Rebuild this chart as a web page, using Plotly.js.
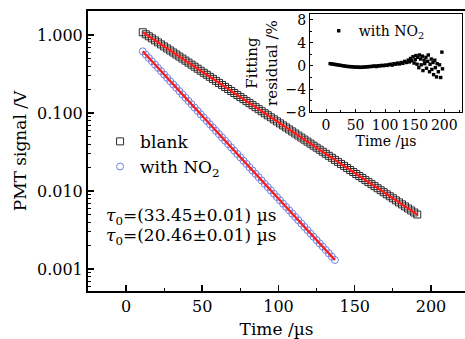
<!DOCTYPE html>
<html>
<head>
<meta charset="utf-8">
<script src="https://cdn.plot.ly/plotly-3.0.1.min.js"></script>
<style>html,body{margin:0;padding:0;overflow:hidden;background:#fff;}#chart{width:465px;height:339px;}</style>
</head>
<body>
<div id="chart"></div>
<script>
// ---- Data ----
const blankTime = [11,13,15,17,19,21,23,25,27,29,31,33,35,37,39,41,43,45,47,49,51,53,55,57,59,61,63,65,67,69,71,73,75,77,79,81,83,85,87,89,91,93,95,97,99,101,103,105,107,109,111,113,115,117,119,121,123,125,127,129,131,133,135,137,139,141,143,145,147,149,151,153,155,157,159,161,163,165,167,169,171,173,175,177,179,181,183,185,187,189,191];
const blankSignal = [1.090,1.0267,0.9671,0.9110,0.8581,0.8083,0.7614,0.7172,0.6756,0.6364,
  0.5995,0.5647,0.5319,0.5010,0.4719,0.4446,0.4188,0.3944,0.3716,0.3500,
  0.3297,0.3106,0.2925,0.2755,0.2595,0.2445,0.2303,0.2169,0.2044,0.1925,
  0.1813,0.1708,0.1609,0.1515,0.1427,0.1345,0.1267,0.1193,0.1124,0.1059,
  0.09971,0.09394,0.08849,0.08332,0.07848,0.07397,0.06968,0.06561,0.06182,0.05824,
  0.05484,0.05167,0.04867,0.04582,0.04316,0.04068,0.03832,0.03608,0.03400,0.03203,
  0.03016,0.02842,0.02677,0.02520,0.02374,0.02237,0.02108,0.01984,0.01870,0.01762,
  0.01659,0.01563,0.01472,0.01386,0.01306,0.01230,0.01159,0.01091,0.01028,0.00969,
  0.00912,0.00860,0.00810,0.00762,0.00718,0.00677,0.00637,0.00600,0.00565,0.00533,0.00502];

const no2Time = [11,13,15,17,19,21,23,25,27,29,31,33,35,37,39,41,43,45,47,49,51,53,55,57,59,61,63,65,67,69,71,73,75,77,79,81,83,85,87,89,91,93,95,97,99,101,103,105,107,109,111,113,115,117,119,121,123,125,127,129,131,133,135,137];
const no2Signal = [0.6200,0.5623,0.5099,0.4624,0.4193,0.3803,0.3449,0.3128,0.2837,0.2573,
  0.2333,0.2116,0.1918,0.1740,0.1578,0.1431,0.1298,0.1177,0.1067,0.09681,
  0.08778,0.07961,0.07217,0.06547,0.05937,0.05384,0.04884,0.04428,0.04015,0.03642,
  0.03303,0.02995,0.02715,0.02463,0.02234,0.02026,0.01838,0.01666,0.01511,0.01370,
  0.01243,0.01127,0.01022,0.009267,0.008405,0.007623,0.006915,0.006268,0.005685,0.005155,
  0.004677,0.004240,0.003845,0.003487,0.003162,0.002868,0.002602,0.002358,0.002139,0.001940,
  0.001760,0.001595,0.001447,0.001312];

const blankFitTime = [11, 191];
const blankFitSignal = [1.09, 0.00502];
const no2FitTime = [11, 137];
const no2FitSignal = [0.62, 0.001312];

const residualTime = [7,10,13,16,19,22,25,28,31,34,37,40,43,46,49,52,55,58,61,64,67,70,73,76,79,82,85,88,91,94,97,100,103,106,109,112,115,118,121,124,127,130,
  133,136,139,141,143,145,147,149,151,152,154,155,157,158,160,161,163,164,166,167,169,170,172,173,175,176,178,179,181,182,184,185,187,188,190,192,194,196,197];
const residualPct = [0.4,0.35,0.3,0.25,0.2,0.15,0.1,0.05,0.0,-0.05,-0.1,-0.1,-0.15,-0.15,-0.2,-0.2,-0.2,-0.25,-0.2,-0.2,-0.15,-0.15,-0.1,-0.1,-0.05,0.0,-0.1,0.05,0.0,0.1,0.05,0.15,0.1,0.2,0.3,0.15,0.4,0.3,0.5,0.35,0.6,0.45,
  0.8,0.6,1.0,0.7,1.3,0.9,1.6,0.5,1.1,1.8,0.3,1.5,-0.3,1.9,1.2,0.2,1.7,-0.8,1.0,0.4,1.5,-0.4,0.8,1.9,-1.0,0.3,1.2,-0.6,0.6,-1.5,1.0,-0.3,-1.9,0.4,-1.0,0.2,-2.0,2.4,-0.5];

const mainXTicks = [0, 50, 100, 150, 200];
const mainYTicks = [0.001, 0.01, 0.1, 1];
const mainYTickText = ['0.001', '0.010', '0.100', '1.000'];
const insetXTicks = [0, 50, 100, 150, 200];
const insetYTicks = [-8, -4, 0, 4, 8];
const insetYTickText = ['\u22128', '\u22124', '0', '4', '8'];

const tauLines = ['<i>\u03c4</i><sub>0</sub>=(33.45\u00b10.01) \u00b5s', '<i>\u03c4</i><sub>0</sub>=(20.46\u00b10.01) \u00b5s'];

// ---- Figure ----
const FONT = 'DejaVu Serif, Liberation Serif, serif';
const traces = [
  {x: blankTime, y: blankSignal, mode: 'markers', name: 'blank', legend: 'legend',
   marker: {symbol: 'square-open', size: 7, color: '#2a2a2a', line: {width: 1}}},
  {x: no2Time, y: no2Signal, mode: 'markers', name: 'with NO<sub>2</sub>', legend: 'legend',
   marker: {symbol: 'circle-open', size: 7, color: '#6f82e0', line: {width: 1}}},
  {x: blankFitTime, y: blankFitSignal, mode: 'lines', showlegend: false,
   line: {color: '#ff1a1a', width: 2.2}},
  {x: no2FitTime, y: no2FitSignal, mode: 'lines', showlegend: false,
   line: {color: '#ff1a1a', width: 2.2}},
  {x: residualTime, y: residualPct, mode: 'markers', name: 'with NO<sub>2</sub>', legend: 'legend2',
   xaxis: 'x2', yaxis: 'y2',
   marker: {symbol: 'square', size: 3.4, color: '#000'}}
];

// main plot area: x 88..465 px, y 11..291 px
const layout = {
  width: 465, height: 339,
  margin: {l: 88, r: 0, t: 11, b: 48},
  paper_bgcolor: '#fff', plot_bgcolor: '#fff',
  font: {family: FONT, color: '#000', size: 16},
  showlegend: true,
  xaxis: {
    range: [-24.9, 222.3], domain: [0, 1],
    tickvals: mainXTicks, ticks: 'inside', ticklen: 6, tickwidth: 1.5, tickcolor: '#000',
    minor: {dtick: 25, tick0: 0, ticks: 'inside', ticklen: 3, tickwidth: 1.2, tickcolor: '#000'},
    showline: true, linewidth: 2, linecolor: '#000', mirror: true,
    showgrid: false, zeroline: false,
    tickfont: {size: 16},
    title: {text: 'Time /\u00b5s', font: {size: 17}, standoff: 9}
  },
  yaxis: {
    type: 'log', range: [-3.28, 0.31], domain: [0, 1],
    tickvals: mainYTicks, ticktext: mainYTickText,
    ticks: 'inside', ticklen: 6, tickwidth: 1.5, tickcolor: '#000',
    minor: {dtick: 'D1', ticks: 'inside', ticklen: 3, tickwidth: 1, tickcolor: '#000'},
    showline: true, linewidth: 2, linecolor: '#000', mirror: false,
    showgrid: false, zeroline: false,
    tickfont: {size: 16},
    title: {text: 'PMT signal /V', font: {size: 17}, standoff: 6}
  },
  xaxis2: {
    anchor: 'y2', domain: [0.589, 0.992], range: [-27, 230],
    tickvals: insetXTicks, ticks: 'inside', ticklen: 3, tickwidth: 1, tickcolor: '#000',
    minor: {dtick: 25, tick0: 0, ticks: 'inside', ticklen: 2, tickcolor: '#000'},
    showline: true, linewidth: 1, linecolor: '#000', mirror: true,
    showgrid: false, zeroline: false,
    tickfont: {size: 14},
    title: {text: 'Time /\u00b5s', font: {size: 14}, standoff: 2}
  },
  yaxis2: {
    anchor: 'x2', domain: [0.639, 0.989], range: [-8, 9],
    tickvals: insetYTicks, ticktext: insetYTickText,
    ticks: 'inside', ticklen: 3, tickwidth: 1, tickcolor: '#000',
    minor: {dtick: 2, tick0: 0, ticks: 'inside', ticklen: 2, tickcolor: '#000'},
    showline: true, linewidth: 1, linecolor: '#000', mirror: true,
    showgrid: false, zeroline: false,
    tickfont: {size: 14},
    title: {text: 'Fitting<br>residual /%', font: {size: 15}, standoff: 4}
  },
  legend: {
    x: 0.032, y: 0.597, xanchor: 'left', yanchor: 'top',
    bgcolor: 'rgba(0,0,0,0)', font: {size: 17}, itemwidth: 30,
    tracegroupgap: 0
  },
  legend2: {
    x: 0.612, y: 0.985, xanchor: 'left', yanchor: 'top',
    bgcolor: 'rgba(0,0,0,0)', font: {size: 14}, itemwidth: 30
  },
  annotations: [
    {xref: 'paper', yref: 'paper', x: 0.043, y: 0.265, xanchor: 'left', yanchor: 'middle',
     text: tauLines[0], showarrow: false, font: {size: 17}},
    {xref: 'paper', yref: 'paper', x: 0.043, y: 0.195, xanchor: 'left', yanchor: 'middle',
     text: tauLines[1], showarrow: false, font: {size: 17}}
  ]
};

Plotly.newPlot('chart', traces, layout, {staticPlot: true, displayModeBar: false});
</script>
</body>
</html>
